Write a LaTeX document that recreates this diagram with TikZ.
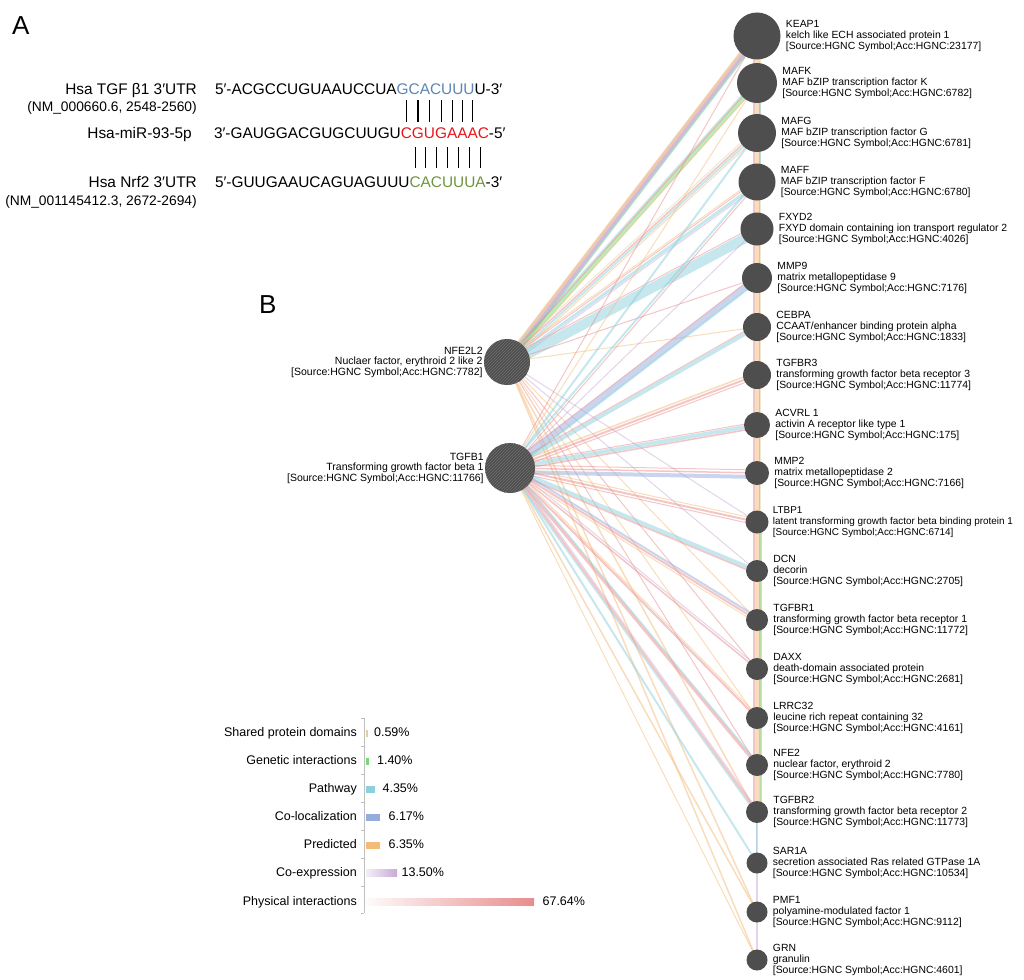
\documentclass[tikz,border=0pt]{standalone}
\usepackage{fontspec}
\setmainfont{Liberation Sans}
\usetikzlibrary{positioning,calc,patterns,backgrounds}

\definecolor{nodegray}{RGB}{78,78,78}
\definecolor{hatchgray}{RGB}{112,112,112}
\definecolor{physical}{RGB}{232,140,140}
\definecolor{coexp}{RGB}{200,170,212}
\definecolor{predicted}{RGB}{244,186,120}
\definecolor{coloc}{RGB}{150,172,220}
\definecolor{pathway}{RGB}{140,208,220}
\definecolor{genetic}{RGB}{120,215,120}
\definecolor{shared}{RGB}{222,210,160}
\definecolor{tgfblue}{RGB}{92,134,178}
\definecolor{mirred}{RGB}{232,22,28}
\definecolor{nrfgreen}{RGB}{108,150,62}

\newcommand\hgnc[1]{[Source:HGNC Symbol;Acc:HGNC:#1]}

\begin{document}
\begin{tikzpicture}[x=1pt,y=-1pt,
    gene/.style={circle,fill=nodegray,inner sep=0pt,minimum size=#1},
    hub/.style={circle,inner sep=0pt,minimum size=#1,preaction={fill=nodegray},
                pattern=north east lines,pattern color=hatchgray},
    genetext/.style={font=\fontsize{10.4}{11}\selectfont,align=left,inner sep=0pt},
    hubtext/.style={font=\fontsize{10.5}{10.5}\selectfont,align=right,inner sep=0pt},
    link/.style={opacity=0.5,line cap=butt},
    seq/.style={font=\fontsize{15.4}{18}\selectfont,inner sep=0pt,outer sep=0pt,anchor=base west},
    seqlab/.style={font=\fontsize{15.4}{18}\selectfont,inner sep=0pt,anchor=base east},
    nmlab/.style={font=\fontsize{13.8}{16}\selectfont,inner sep=0pt,anchor=base east},
    pairbar/.style={line width=1.1pt},
    panel/.style={font=\fontsize{26}{30}\selectfont,inner sep=0pt,anchor=base west},
    legtext/.style={font=\fontsize{12.5}{14}\selectfont,inner sep=0pt,text height=9pt,text depth=2.5pt},
    legbar/.style={inner sep=0pt,minimum height=7pt,minimum width=#1},
    bracket/.style={draw=black!25,line width=1pt}]
  \useasboundingbox (0,0) rectangle (1024,979);

  % panel A: seed pairing
  \node[panel] (pa) at (12,35) {A};
  \node[seqlab] (tgflab) at (197,95) {Hsa TGF β1 3′UTR};
  \node[nmlab] (tgfnm) at (197,112) {(NM\_000660.6, 2548-2560)};
  \node[seqlab] (mirlab) at (192,138) {Hsa-miR-93-5p};
  \node[seqlab] (nrflab) at (197,187) {Hsa Nrf2 3′UTR};
  \node[nmlab] (nrfnm) at (197,205) {(NM\_001145412.3, 2672-2694)};

  \node[seq] (t0) at (215,95) {5′-ACGCCUGUAAUCCUA};
  \foreach \b [count=\i, remember=\i as \j (initially 0)] in {G,C,A,C,U,U,U}
    \node[seq,text=tgfblue] (t\i) at (t\j.base east) {\b};
  \node[seq] (t8) at (t7.base east) {U-3′};

  \node[seq] (r0) at (214,138) {3′-GAUGGACGUGCUUGU};
  \foreach \b [count=\i, remember=\i as \j (initially 0)] in {C,G,U,G,A,A,A,C}
    \node[seq,text=mirred] (r\i) at (r\j.base east) {\b};
  \node[seq] (r9) at (r8.base east) {-5′};

  \node[seq] (g0) at (215,187) {5′-GUUGAAUCAGUAGUUU};
  \foreach \b [count=\i, remember=\i as \j (initially 0)] in {C,A,C,U,U,U,A}
    \node[seq,text=nrfgreen] (g\i) at (g\j.base east) {\b};
  \node[seq] (g8) at (g7.base east) {-3′};

  \foreach \i in {1,...,7}
    \draw[pairbar] ($(r\i.north |- t\i.south)+(0,5)$) -- ($(r\i.north)+(0,-5)$);
  \foreach \i [evaluate=\i as \k using int(\i+1)] in {1,...,7}
    \draw[pairbar] ($(g\i.north |- r\k.south)+(0,9)$) -- ($(g\i.north)+(0,-8)$);

  % panel B: network
  \node[panel] (pb) at (259,313) {B};

  \node[hub=46pt] (nfe2l2) at (507,362) {};
  \node[hubtext,left=1pt of nfe2l2] (nfe2l2-t) {NFE2L2\\Nuclaer factor, erythroid 2 like 2\\\hgnc{7782}};
  \node[hub=50pt] (tgfb1) at (510,468) {};
  \node[hubtext,left=1pt of tgfb1] (tgfb1-t) {TGFB1\\Transforming growth factor beta 1\\\hgnc{11766}};

  \node[gene=47pt] (keap1) at (757,36) {};
  \node[genetext,right=5pt of keap1] (keap1-t) {KEAP1\\kelch like ECH associated protein 1\\\hgnc{23177}};
  \node[gene=40pt] (mafk) at (757,83) {};
  \node[genetext,right=5pt of mafk] (mafk-t) {MAFK\\MAF bZIP transcription factor K\\\hgnc{6782}};
  \node[gene=38pt] (mafg) at (757,133) {};
  \node[genetext,right=5pt of mafg] (mafg-t) {MAFG\\MAF bZIP transcription factor G\\\hgnc{6781}};
  \node[gene=37pt] (maff) at (757,182) {};
  \node[genetext,right=5pt of maff] (maff-t) {MAFF\\MAF bZIP transcription factor F\\\hgnc{6780}};
  \node[gene=33pt] (fxyd2) at (757,229) {};
  \node[genetext,right=5pt of fxyd2] (fxyd2-t) {FXYD2\\FXYD domain containing ion transport regulator 2\\\hgnc{4026}};
  \node[gene=30pt] (mmp9) at (757,278) {};
  \node[genetext,right=5pt of mmp9] (mmp9-t) {MMP9\\matrix metallopeptidase 9\\\hgnc{7176}};
  \node[gene=28pt] (cebpa) at (757,327) {};
  \node[genetext,right=5pt of cebpa] (cebpa-t) {CEBPA\\CCAAT/enhancer binding protein alpha\\\hgnc{1833}};
  \node[gene=28pt] (tgfbr3) at (757,375) {};
  \node[genetext,right=5pt of tgfbr3] (tgfbr3-t) {TGFBR3\\transforming growth factor beta receptor 3\\\hgnc{11774}};
  \node[gene=26pt] (acvrl1) at (757,425) {};
  \node[genetext,right=5pt of acvrl1] (acvrl1-t) {ACVRL 1\\activin A receptor like type 1\\\hgnc{175}};
  \node[gene=24pt] (mmp2) at (757,473) {};
  \node[genetext,right=5pt of mmp2] (mmp2-t) {MMP2\\matrix metallopeptidase 2\\\hgnc{7166}};
  \node[gene=23pt] (ltbp1) at (757,522) {};
  \node[genetext,right=4pt of ltbp1,font=\fontsize{9.9}{11}\selectfont] (ltbp1-t) {LTBP1\\latent transforming growth factor beta binding protein 1\\\hgnc{6714}};
  \node[gene=22pt] (dcn) at (757,571) {};
  \node[genetext,right=5pt of dcn] (dcn-t) {DCN\\decorin\\\hgnc{2705}};
  \node[gene=22pt] (tgfbr1) at (757,620) {};
  \node[genetext,right=5pt of tgfbr1] (tgfbr1-t) {TGFBR1\\transforming growth factor beta receptor 1\\\hgnc{11772}};
  \node[gene=22pt] (daxx) at (757,669) {};
  \node[genetext,right=5pt of daxx] (daxx-t) {DAXX\\death-domain associated protein\\\hgnc{2681}};
  \node[gene=22pt] (lrrc32) at (757,718) {};
  \node[genetext,right=5pt of lrrc32] (lrrc32-t) {LRRC32\\leucine rich repeat containing 32\\\hgnc{4161}};
  \node[gene=22pt] (nfe2) at (757,765) {};
  \node[genetext,right=5pt of nfe2] (nfe2-t) {NFE2\\nuclear factor, erythroid 2\\\hgnc{7780}};
  \node[gene=22pt] (tgfbr2) at (757,812) {};
  \node[genetext,right=5pt of tgfbr2] (tgfbr2-t) {TGFBR2\\transforming growth factor beta receptor 2\\\hgnc{11773}};
  \node[gene=21pt] (sar1a) at (757,863) {};
  \node[genetext,right=5pt of sar1a] (sar1a-t) {SAR1A\\secretion associated Ras related GTPase 1A\\\hgnc{10534}};
  \node[gene=21pt] (pmf1) at (757,912) {};
  \node[genetext,right=5pt of pmf1] (pmf1-t) {PMF1\\polyamine-modulated factor 1\\\hgnc{9112}};
  \node[gene=21pt] (grn) at (757,960) {};
  \node[genetext,right=5pt of grn] (grn-t) {GRN\\granulin\\\hgnc{4601}};

  \begin{scope}[on background layer]
    \foreach \s/\t/\c/\w/\o in {
        nfe2l2/keap1/physical/4pt/2pt, nfe2l2/keap1/coexp/3pt/-1pt,
        nfe2l2/keap1/coloc/2pt/-3pt, nfe2l2/keap1/shared/2pt/4pt,
        nfe2l2/keap1/genetic/1pt/-5pt, nfe2l2/keap1/predicted/1pt/6pt,
        nfe2l2/mafk/genetic/4pt/0pt, nfe2l2/mafk/physical/1.5pt/3pt,
        nfe2l2/mafk/predicted/1pt/-3pt, nfe2l2/mafk/pathway/1pt/5pt,
        nfe2l2/mafg/physical/1.5pt/2pt, nfe2l2/mafg/pathway/2pt/-1pt,
        nfe2l2/mafg/predicted/1pt/-4pt, nfe2l2/mafg/shared/1pt/5pt,
        nfe2l2/maff/physical/1pt/2pt, nfe2l2/maff/pathway/3pt/-2pt,
        nfe2l2/maff/predicted/1pt/4pt, nfe2l2/maff/coexp/1pt/-5pt,
        nfe2l2/fxyd2/pathway/10pt/-3pt, nfe2l2/fxyd2/physical/1pt/4pt,
        nfe2l2/mmp9/physical/1pt/0pt, nfe2l2/cebpa/predicted/1pt/0pt,
        nfe2l2/ltbp1/coexp/1pt/0pt, nfe2l2/dcn/coexp/1pt/0pt,
        nfe2l2/tgfbr1/predicted/1pt/0pt, nfe2l2/daxx/physical/1pt/0pt,
        nfe2l2/lrrc32/predicted/1pt/0pt, nfe2l2/nfe2/physical/1pt/0pt,
        nfe2l2/tgfbr2/predicted/1.5pt/-2pt, nfe2l2/pmf1/predicted/1.5pt/0pt,
        nfe2l2/grn/predicted/1.5pt/0pt,
        tgfb1/keap1/physical/1pt/0pt, tgfb1/mafk/predicted/1pt/0pt,
        tgfb1/mafg/pathway/2pt/0pt, tgfb1/maff/pathway/2pt/2pt,
        tgfb1/maff/physical/1pt/-2pt, tgfb1/fxyd2/coexp/1pt/0pt,
        tgfb1/mmp9/coloc/6pt/0pt, tgfb1/mmp9/physical/1pt/4pt,
        tgfb1/mmp9/pathway/2pt/-4pt,
        tgfb1/cebpa/pathway/4pt/0pt, tgfb1/cebpa/physical/1pt/3pt,
        tgfb1/tgfbr3/physical/2pt/0pt, tgfb1/tgfbr3/predicted/1.5pt/3pt,
        tgfb1/tgfbr3/physical/1pt/-3pt,
        tgfb1/acvrl1/pathway/4pt/0pt, tgfb1/acvrl1/physical/1.5pt/-3pt,
        tgfb1/acvrl1/physical/1pt/3pt,
        tgfb1/mmp2/coloc/4pt/-4pt, tgfb1/mmp2/physical/1.5pt/0pt,
        tgfb1/mmp2/physical/1pt/3pt,
        tgfb1/ltbp1/physical/2pt/0pt, tgfb1/ltbp1/physical/1pt/-3pt,
        tgfb1/ltbp1/predicted/1pt/3pt,
        tgfb1/dcn/pathway/4pt/0pt, tgfb1/dcn/physical/1.5pt/-3pt,
        tgfb1/tgfbr1/physical/2pt/0pt, tgfb1/tgfbr1/coloc/2pt/3pt,
        tgfb1/tgfbr1/predicted/1pt/-3pt,
        tgfb1/daxx/physical/1.5pt/0pt, tgfb1/daxx/coexp/1pt/3pt,
        tgfb1/lrrc32/physical/2pt/0pt, tgfb1/lrrc32/predicted/1pt/3pt,
        tgfb1/nfe2/physical/3pt/0pt, tgfb1/nfe2/pathway/1.5pt/3pt,
        tgfb1/tgfbr2/physical/2pt/0pt, tgfb1/tgfbr2/pathway/1.5pt/-3pt,
        tgfb1/tgfbr2/coexp/1pt/3pt,
        tgfb1/sar1a/pathway/2pt/0pt, tgfb1/pmf1/predicted/1.5pt/0pt,
        tgfb1/grn/predicted/1pt/0pt}
      \draw[link,draw=\c,line width=\w] ([yshift=\o]\s.center) -- ([yshift=\o]\t.center);
    % edges along the gene column
    \foreach \s/\t/\c/\w/\o in {
        keap1/tgfbr2/predicted/5pt/0pt, keap1/tgfbr2/physical/2pt/-3pt,
        keap1/tgfbr2/shared/2pt/3pt, mafk/nfe2/coexp/1pt/2pt,
        mafk/maff/pathway/1.5pt/3pt, ltbp1/tgfbr2/genetic/1.5pt/4pt,
        tgfbr2/grn/coexp/1.5pt/0pt, tgfbr2/sar1a/pathway/1pt/-1pt}
      \draw[link,draw=\c,line width=\w] ([xshift=\o]\s.center) -- ([xshift=\o]\t.center);
  \end{scope}

  % legend
  \draw[bracket] (364,718) -- (364,913);
  \foreach \y in {718,746,774,802,830,858,886,913}
    \draw[bracket] (361,\y) -- (364,\y);

  \node[legtext,anchor=east] (shared-l) at (357,733) {Shared protein domains};
  \node[legbar=1.5pt,fill=shared,right=9pt of shared-l] (shared-b) {};
  \node[legtext,right=6pt of shared-b] (shared-p) {0.59\%};
  \node[legtext,anchor=east] (genetic-l) at (357,761) {Genetic interactions};
  \node[legbar=2.5pt,fill=genetic,right=9pt of genetic-l] (genetic-b) {};
  \node[legtext,right=8pt of genetic-b] (genetic-p) {1.40\%};
  \node[legtext,anchor=east] (pathway-l) at (357,789) {Pathway};
  \node[legbar=9pt,fill=pathway,right=9pt of pathway-l] (pathway-b) {};
  \node[legtext,right=7pt of pathway-b] (pathway-p) {4.35\%};
  \node[legtext,anchor=east] (coloc-l) at (357,817) {Co-localization};
  \node[legbar=14pt,fill=coloc,right=9pt of coloc-l] (coloc-b) {};
  \node[legtext,right=8pt of coloc-b] (coloc-p) {6.17\%};
  \node[legtext,anchor=east] (predicted-l) at (357,845) {Predicted};
  \node[legbar=14pt,fill=predicted,right=9pt of predicted-l] (predicted-b) {};
  \node[legtext,right=8pt of predicted-b] (predicted-p) {6.35\%};
  \node[legtext,anchor=east] (coexp-l) at (357,873) {Co-expression};
  \node[legbar=31pt,left color=coexp!20,right color=coexp,right=9pt of coexp-l] (coexp-b) {};
  \node[legtext,right=4pt of coexp-b] (coexp-p) {13.50\%};
  \node[legtext,anchor=east] (physical-l) at (357,902) {Physical interactions};
  \node[legbar=168pt,left color=physical!4,right color=physical,right=9pt of physical-l] (physical-b) {};
  \node[legtext,right=8pt of physical-b] (physical-p) {67.64\%};
\end{tikzpicture}
\end{document}
